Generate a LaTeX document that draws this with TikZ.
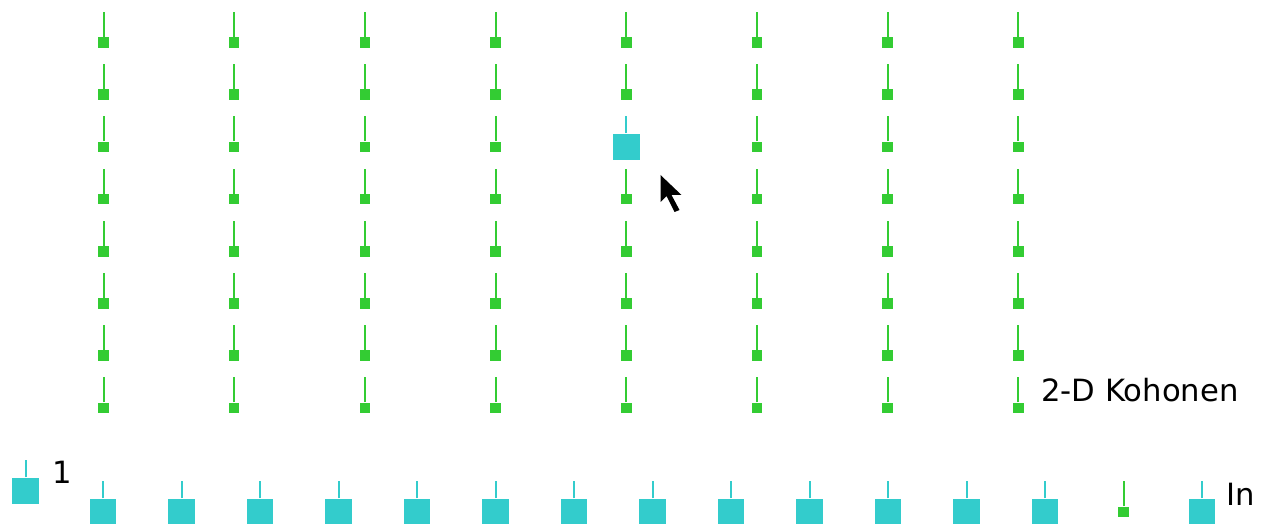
\documentclass[tikz,border=0pt]{standalone}
\usepackage{fontspec}
\setmainfont{DejaVu Sans}
\definecolor{unitgreen}{HTML}{33CC33}
\definecolor{actcyan}{HTML}{33CCCC}

\begin{document}
\begin{tikzpicture}[x=0.75pt, y=-0.75pt,
    unit/.style={rectangle, fill=unitgreen, inner sep=0pt, minimum size=7.9pt},
    hot/.style={rectangle, fill=actcyan, inner sep=0pt, minimum size=19.9pt},
    wire/.style={line width=1.5pt, draw=unitgreen},
    hotwire/.style={line width=1.5pt, draw=actcyan},
    lbl/.style={font=\fontsize{23}{28}\selectfont, inner sep=0pt, anchor=base west}]

    \useasboundingbox (0,0) rectangle (1265,524);
    \clip (0,0) rectangle (1265,524);

    % kohonen layer
    \foreach \c in {1,...,8}
      \foreach \r in {1,...,8} {
        \ifnum\c\r=53
          \node[hot] (k-\c-\r) at ({103.5+130.7*(\c-1)}, {42.5+52.2*(\r-1)}) {};
          \draw[hotwire] (k-\c-\r.north) -- ++(0,-17);
        \else
          \node[unit] (k-\c-\r) at ({103.5+130.7*(\c-1)}, {42.5+52.2*(\r-1)}) {};
          \draw[wire] (k-\c-\r.north) -- ++(0,-25);
        \fi
      }

    % bias and input layer
    \node[hot] (b) at (25.5,491) {};
    \draw[hotwire] (b.north) -- ++(0,-17);
    \foreach \i in {1,...,15} {
      \ifnum\i=14
        \node[unit] (in-\i) at ({103+78.5*(\i-1)}, 512) {};
        \draw[wire] (in-\i.north) -- ++(0,-25);
      \else
        \node[hot] (in-\i) at ({103+78.5*(\i-1)}, 512) {};
        \draw[hotwire] (in-\i.north) -- ++(0,-17);
      \fi
    }

    \node[lbl] (kohonen) at (1041,401) {2-D Kohonen};
    \node[lbl] (one) at (52,483) {1};
    \node[lbl] (inp) at (1226,505) {In};

    % mouse pointer
    \fill[black] (660.5,175) -- ++(0,27) -- ++(6,-6) -- ++(8,16) -- ++(5,-2)
      -- ++(-8,-15) -- ++(10,0) -- cycle;
\end{tikzpicture}
\end{document}
